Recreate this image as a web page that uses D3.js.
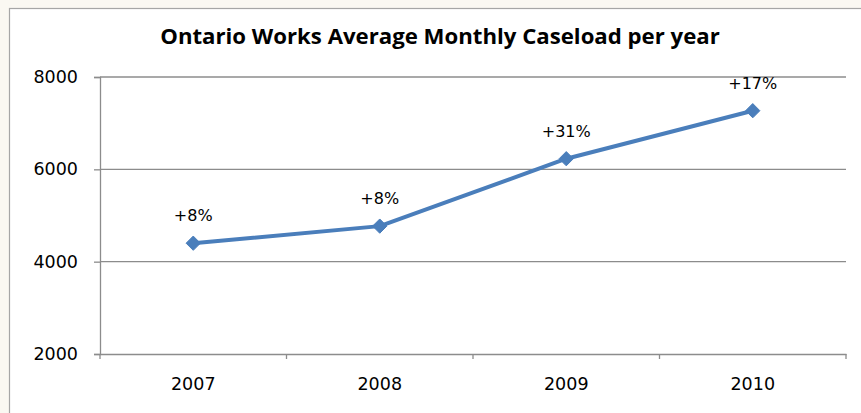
<!DOCTYPE html>
<html><head><meta charset="utf-8">
<script src="https://cdn.jsdelivr.net/npm/d3@7"></script>
<style>html,body{margin:0;padding:0;background:#fff;overflow:hidden}</style>
</head><body>
<svg id="c" width="861" height="413"></svg>
<script>
const years = ["2007","2008","2009","2010"];
const caseload = [4400, 4770, 6230, 7270];
const changeLabels = ["+8%","+8%","+31%","+17%"];
const yTicks = [2000, 4000, 6000, 8000];
const title = "Ontario Works Average Monthly Caseload per year";

const svg = d3.select("#c");
const W = 861, H = 413;
const m = {left:100, right:15, top:77, bottom:59};

// outer background strip and chart border
svg.append("rect").attr("x",0).attr("y",0).attr("width",W).attr("height",H).attr("fill","#faf8f2");
svg.append("rect").attr("x",9.5).attr("y",8.5).attr("width",W+20).attr("height",H+20)
  .attr("fill","#fff").attr("stroke","#a6a6a6").attr("stroke-width",1.2);

const x = d3.scaleBand().domain(years).range([m.left, W-m.right]);
const y = d3.scaleLinear().domain([2000, 8000]).range([H-m.bottom, m.top]);

// gridlines
svg.append("g").selectAll("line").data(yTicks.slice(1)).join("line")
  .attr("x1", m.left).attr("x2", W-m.right)
  .attr("y1", d=>y(d)).attr("y2", d=>y(d))
  .attr("stroke","#8c8c8c").attr("stroke-width",1.3);

// y axis
const ya = svg.append("g").attr("transform",`translate(${m.left},0)`)
  .call(d3.axisLeft(y).tickValues(yTicks).tickSize(6).tickPadding(16).tickFormat(d3.format("d")));
ya.select(".domain").attr("stroke","#8c8c8c").attr("stroke-width",1.3);
ya.selectAll(".tick line").attr("stroke","#8c8c8c").attr("stroke-width",1.3);
ya.selectAll("text").attr("font-family","DejaVu Sans").attr("font-size",17.5).attr("fill","#000");

// x axis
const xa = svg.append("g").attr("transform",`translate(0,${y(2000)})`)
  .call(d3.axisBottom(x).tickSize(0).tickPadding(24));
xa.select(".domain").attr("stroke","#8c8c8c").attr("stroke-width",1.3);
xa.selectAll("text").attr("font-family","DejaVu Sans").attr("font-size",17.5).attr("fill","#000");
const bounds = years.map(d=>x(d)).concat([x(years[years.length-1])+x.bandwidth()]);
xa.selectAll("line.sep").data(bounds).join("line").attr("class","sep")
  .attr("x1",d=>d).attr("x2",d=>d).attr("y1",0).attr("y2",5)
  .attr("stroke","#8c8c8c").attr("stroke-width",1.3);

// line
const cx = d => x(d) + x.bandwidth()/2;
const pts = years.map((d,i)=>[cx(d), y(caseload[i])]);
svg.append("path").datum(pts).attr("d", d3.line())
  .attr("fill","none").attr("stroke","#4a7ebb").attr("stroke-width",4).attr("stroke-linejoin","round");

// markers
const sym = d3.symbol().type(d3.symbolDiamond2).size(130);
svg.append("g").selectAll("path").data(pts).join("path")
  .attr("d", sym).attr("transform", d=>`translate(${d[0]},${d[1]})`)
  .attr("fill","#4a7ebb").attr("stroke","#4a7ebb").attr("stroke-width",1);

// labels
svg.append("g").selectAll("text").data(pts).join("text")
  .attr("x", d=>d[0]).attr("y", d=>d[1]-22)
  .attr("text-anchor","middle").attr("font-family","DejaVu Sans").attr("font-size",16)
  .attr("fill","#000").text((d,i)=>changeLabels[i]);

// title
const t = svg.append("text").attr("x",440).attr("y",44).attr("text-anchor","middle")
  .attr("font-family","Open Sans").attr("font-weight","bold").attr("font-size",20)
  .attr("fill","#000").text(title);
const tw = t.node().getComputedTextLength();
t.attr("font-size", 20*560/tw);
</script>
</body></html>
